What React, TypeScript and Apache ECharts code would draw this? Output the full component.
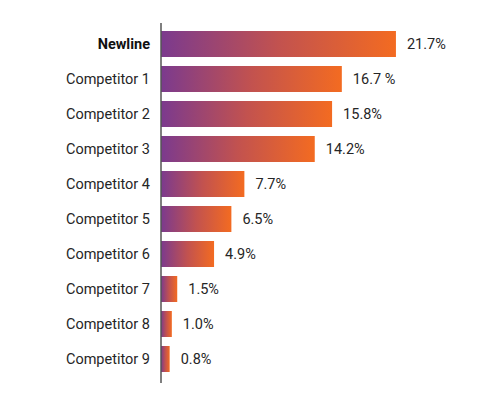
import React, { useEffect, useRef } from "react";
import * as echarts from "echarts";

const categories = [
  "Newline",
  "Competitor 1",
  "Competitor 2",
  "Competitor 3",
  "Competitor 4",
  "Competitor 5",
  "Competitor 6",
  "Competitor 7",
  "Competitor 8",
  "Competitor 9",
];
const values = [21.7, 16.7, 15.8, 14.2, 7.7, 6.5, 4.9, 1.5, 1.0, 0.8];
const valueLabels = ["21.7%", "16.7 %", "15.8%", "14.2%", "7.7%", "6.5%", "4.9%", "1.5%", "1.0%", "0.8%"];

export default function App() {
  const ref = useRef<HTMLDivElement>(null);
  useEffect(() => {
    if (!ref.current) return;
    const chart = echarts.init(ref.current, null, { renderer: "svg" });
    const font = "Roboto";
    chart.setOption({
      animation: false,
      backgroundColor: "#ffffff",
      grid: { left: 153, top: 18.5, height: 350, right: 63.3, containLabel: false },
      xAxis: {
        type: "value",
        min: 0,
        max: 25,
        show: false,
      },
      yAxis: {
        type: "category",
        data: categories,
        inverse: true,
        axisLine: { show: false },
        axisTick: { show: false },
        axisLabel: {
          margin: 11,
          fontFamily: font,
          fontSize: 14.5,
          fontWeight: "normal",
          color: "#262626",
          formatter: (v: string) => (v === "Newline" ? "{b|" + v + "}" : v),
          rich: {
            b: { fontWeight: "bold", fontFamily: font, fontSize: 14.5, color: "#111111" },
          },
        },
      },
      graphic: [
        {
          type: "line",
          shape: { x1: 153, y1: 15, x2: 153, y2: 375 },
          style: { stroke: "#555555", lineWidth: 1.5 },
          z: 10,
        },
      ],
      series: [
        {
          type: "bar",
          data: values.map((v, i) => ({ value: v, label: { formatter: valueLabels[i] } })),
          barWidth: 26,
          itemStyle: {
            color: new echarts.graphic.LinearGradient(0, 0, 1, 0, [
              { offset: 0, color: "#7b3a8e" },
              { offset: 0.5, color: "#c2524f" },
              { offset: 1, color: "#f36b21" },
            ]),
          },
          label: {
            show: true,
            position: "right",
            distance: 11,
            fontFamily: font,
            fontSize: 14.5,
            fontWeight: "normal",
            color: "#262626",
          },
        },
      ],
    });
    return () => chart.dispose();
  }, []);
  return <div ref={ref} style={{ width: 487, height: 381 }} />;
}
